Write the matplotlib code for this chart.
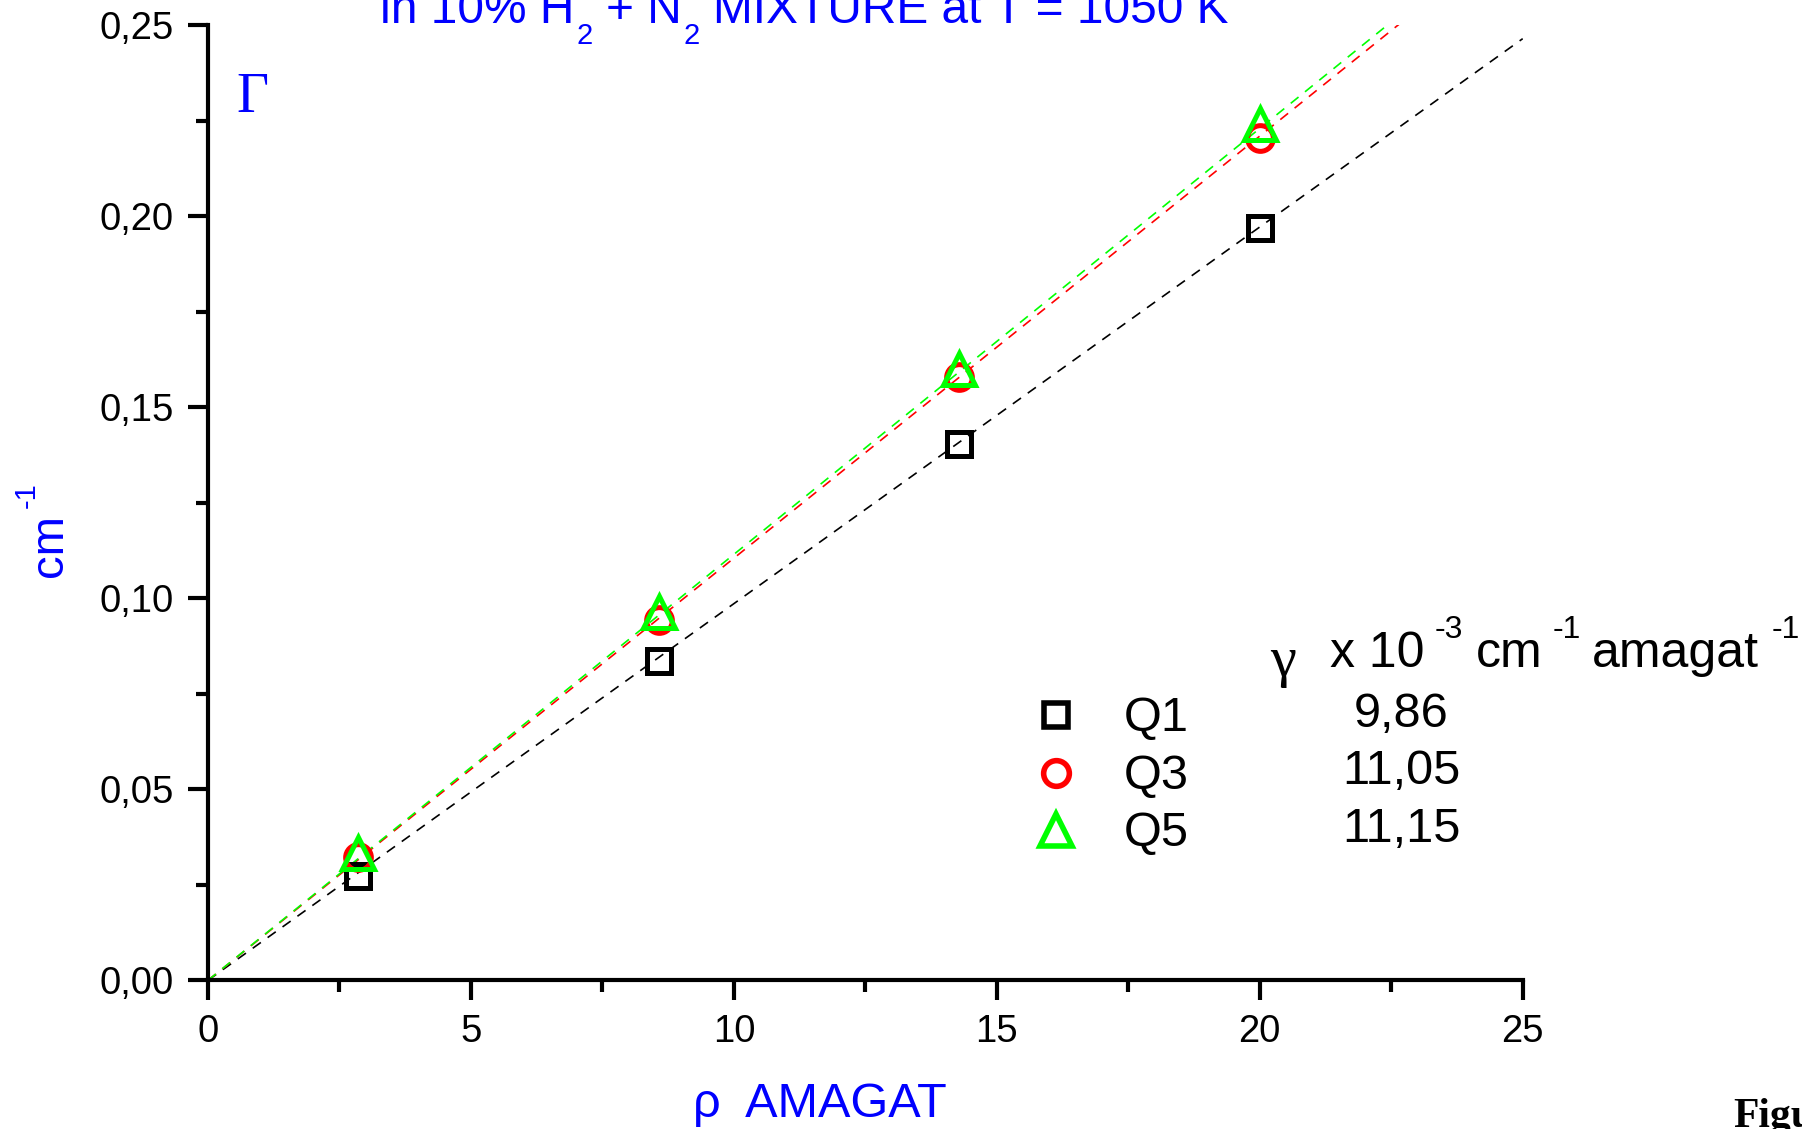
"""
Line broadening of the Q lines in a 10% H2 + N2 mixture at 1050 K.
Half-width against density, with linear fits through the origin.
"""

import numpy as np
import matplotlib
matplotlib.use("Agg")
import matplotlib.pyplot as plt
from matplotlib.ticker import MultipleLocator, FuncFormatter
from matplotlib.transforms import IdentityTransform

# density (amagat) and measured widths (cm-1)
density = [2.86, 8.57, 14.29, 20.0]
width_q1 = [0.0274, 0.0836, 0.1405, 0.1970]
width_q3 = [0.0322, 0.0942, 0.1579, 0.2205]
width_q5 = [0.0334, 0.0963, 0.1600, 0.2241]

# fitted broadening coefficients, x 10^-3 cm-1 amagat-1
gamma = [9.86, 11.05, 11.15]
line_names = ["Q1", "Q3", "Q5"]

colors = ["black", "red", "#00ff00"]
markers = ["s", "o", "^"]
marker_sizes = [17.5, 18.5, 23]

BLUE = "#0000ff"
SANS = "Liberation Sans"
SERIF = "Liberation Serif"

plt.rcParams["font.family"] = [SANS, "DejaVu Sans"]

W, H = 1802, 1129
fig = plt.figure(figsize=(W / 100, H / 100), dpi=100)
ax = fig.add_axes([208 / W, 1 - 980.3 / H, (1522.7 - 208) / W, (980.3 - 25.3) / H])


def comma(v, _pos=None):
    return f"{v:.2f}".replace(".", ",")


def runs_text(x, y_top, runs, vertical=False, **kw):
    """Draw a row of text pieces (sub/superscripts) starting at pixel x, baseline y_top."""
    renderer = fig.canvas.get_renderer()
    pos = x if not vertical else H - y_top
    base = H - y_top if not vertical else x
    for s, shift, size, gap in runs:
        if vertical:
            t = fig.text(base - shift, pos, s, transform=IdentityTransform(),
                         fontsize=size, rotation=90, rotation_mode="anchor",
                         ha="left", va="baseline", **kw)
            pos = t.get_window_extent(renderer).y1 + gap
        else:
            t = fig.text(pos, base + shift, s, transform=IdentityTransform(),
                         fontsize=size, ha="left", va="baseline", **kw)
            pos = t.get_window_extent(renderer).x1 + gap


# linear fits through the origin
x_fit = np.array([0.0, 25.0])
for g, c in zip(gamma, colors):
    ax.plot(x_fit, g * 1e-3 * x_fit, color=c, lw=1.2, dashes=(6, 5), zorder=2)

for ys, c, m, ms in zip([width_q1, width_q3, width_q5], colors, markers, marker_sizes):
    ax.plot(density, ys, ls="none", marker=m, ms=ms, mfc="none", mec=c, mew=3.6, zorder=3)

ax.set_xlim(0, 25)
ax.set_ylim(0, 0.25)
ax.xaxis.set_major_locator(MultipleLocator(5))
ax.xaxis.set_minor_locator(MultipleLocator(2.5))
ax.yaxis.set_major_locator(MultipleLocator(0.05))
ax.yaxis.set_minor_locator(MultipleLocator(0.025))
ax.yaxis.set_major_formatter(FuncFormatter(comma))

for side in ["top", "right"]:
    ax.spines[side].set_visible(False)
for side in ["left", "bottom"]:
    ax.spines[side].set_linewidth(3)

ax.tick_params(which="major", direction="out", length=14.5, width=3, labelsize=27.5, pad=10)
ax.tick_params(which="minor", direction="out", length=8.5, width=3)

# title line, with low subscripts
runs_text(380, 23, [
    ("in 10% H", 0, 34.5, 2),
    ("2", -21, 21, 13),
    ("+ N", 0, 34.5, 2),
    ("2", -21, 21, 13),
    ("MIXTURE at T = 1050 K", 0, 34.5, 0),
], color=BLUE, family=SANS)

# axis labels
runs_text(62, 577, [("cm", 0, 34, 6), ("-1", 27, 21, 0)], vertical=True, color=BLUE, family=SANS)
fig.text(693, H - 1117, "\u03c1  AMAGAT", transform=IdentityTransform(), fontsize=35,
         color=BLUE, family=SANS, ha="left", va="baseline")
fig.text(236, H - 112, "\u0393", transform=IdentityTransform(), fontsize=40,
         color=BLUE, family=SERIF, ha="left", va="baseline")

# coefficient table
fig.text(1283, H - 676, "\u03b3", transform=IdentityTransform(), fontsize=42,
         family=SERIF, ha="center", va="baseline")
runs_text(1330, 667, [
    ("x 10", 0, 36, 10),
    ("-3", 29, 23, 13),
    ("cm", 0, 36, 10),
    ("-1", 29, 23, 11),
    ("amagat", 0, 36, 13),
    ("-1", 29, 23, 0),
], color="black", family=SANS)

row_top, row_step = 715, 57.5
for i, (name, g, c, m, ms) in enumerate(zip(line_names, gamma, colors, markers, marker_sizes)):
    yc = row_top + i * row_step
    ax.plot([1056], [H - yc], transform=IdentityTransform(), clip_on=False, ls="none",
            marker=m, ms=ms, mfc="none", mec=c, mew=4)
    fig.text(1124, H - (yc + 16), name, transform=IdentityTransform(), fontsize=35,
             family=SANS, ha="left", va="baseline")
    fig.text(1401, H - (yc + 12), comma(g), transform=IdentityTransform(), fontsize=35,
             family=SANS, ha="center", va="baseline")

fig.text(1733, H - 1127, "Figure", transform=IdentityTransform(), fontsize=30,
         family=SERIF, weight="bold", ha="left", va="baseline")

fig.savefig("out.png", dpi=100)
